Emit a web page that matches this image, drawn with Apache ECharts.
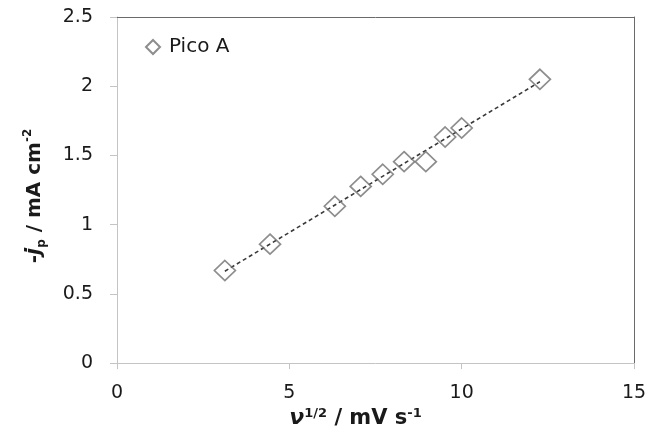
<!DOCTYPE html>
<html>
<head>
<meta charset="utf-8">
<script src="https://cdn.jsdelivr.net/npm/echarts@6/dist/echarts.min.js"></script>
<style>html,body{margin:0;padding:0;background:#fff;}#c{width:650px;height:434px;}</style>
</head>
<body>
<div id="c"></div>
<script>
// Data
var seriesName = 'Pico A';
var xValues = [3.13, 4.44, 6.32, 7.07, 7.71, 8.33, 8.96, 9.52, 10.0, 12.27];
var yValues = [0.669, 0.859, 1.133, 1.276, 1.364, 1.455, 1.455, 1.633, 1.698, 2.05];
var xTicks = [0, 5, 10, 15];
var yTicks = [0, 0.5, 1, 1.5, 2, 2.5];

// linear trend line (least squares) from the data
function fit(xs, ys) {
  var n = xs.length, sx = 0, sy = 0, sxx = 0, sxy = 0;
  for (var i = 0; i < n; i++) { sx += xs[i]; sy += ys[i]; sxx += xs[i]*xs[i]; sxy += xs[i]*ys[i]; }
  var b = (n*sxy - sx*sy) / (n*sxx - sx*sx);
  var a = (sy - b*sx) / n;
  return {a: a, b: b};
}
var f = fit(xValues, yValues);
var xmin = Math.min.apply(null, xValues), xmax = Math.max.apply(null, xValues);
var trend = [[xmin, f.a + f.b*xmin], [xmax, f.a + f.b*xmax]];
var points = xValues.map(function (x, i) { return [x, yValues[i]]; });

var font = 'DejaVu Sans';
var dark = '#1a1a1a';
var chart = echarts.init(document.getElementById('c'));
chart.setOption({
  animation: false,
  backgroundColor: '#fff',
  grid: {left: 117, right: 16, top: 17, bottom: 67, containLabel: false},
  legend: {
    left: 140, top: 32, itemWidth: 14, itemHeight: 14, itemGap: 6,
    data: [{name: seriesName, icon: 'diamond'}],
    textStyle: {fontFamily: font, fontSize: 20, color: dark, padding: [0, 0, 0, 4]}
  },
  xAxis: [{
    type: 'value', min: xTicks[0], max: xTicks[xTicks.length-1], interval: 5,
    splitLine: {show: false},
    axisLine: {show: true, onZero: false, lineStyle: {color: '#c4c4c4', width: 1}},
    axisTick: {show: true, length: 6, lineStyle: {color: '#c4c4c4'}},
    axisLabel: {margin: 20, fontFamily: font, fontSize: 19, color: dark},
    name: '{v|ν}{sup|1/2}{t| / mV s}{sup|-1}',
    nameLocation: 'middle', nameGap: 41,
    nameTextStyle: {
      padding: [0, 40, 0, 0],
      rich: {
        v: {fontFamily: font, fontSize: 22, fontWeight: 'bold', fontStyle: 'italic', color: dark, lineHeight: 22, verticalAlign: 'bottom'},
        t: {fontFamily: font, fontSize: 21, fontWeight: 'bold', color: dark, lineHeight: 22, verticalAlign: 'bottom'},
        sup: {fontFamily: font, fontSize: 13, fontWeight: 'bold', color: dark, lineHeight: 13, verticalAlign: 'top'}
      }
    }
  }, {
    type: 'value', position: 'top', min: 0, max: 15,
    axisLine: {show: true, onZero: false, lineStyle: {color: '#6a6a6a', width: 1}},
    axisTick: {show: false}, axisLabel: {show: false}, splitLine: {show: false}
  }],
  yAxis: [{
    type: 'value', min: yTicks[0], max: yTicks[yTicks.length-1], interval: 0.5,
    splitLine: {show: false},
    axisLine: {show: true, onZero: false, lineStyle: {color: '#c4c4c4', width: 1}},
    axisTick: {show: true, length: 7, lineStyle: {color: '#c4c4c4'}},
    axisLabel: {margin: 24, fontFamily: font, fontSize: 19, color: dark, padding: [4, 0, 0, 0]},
    name: '{t|-}{j|j}{sub|p}{t| / mA cm}{sup|-2}',
    nameLocation: 'middle', nameGap: 69, nameRotate: 90,
    nameTextStyle: {
      padding: [0, 12, 0, 0],
      rich: {
        t: {fontFamily: font, fontSize: 20, fontWeight: 'bold', color: dark, lineHeight: 26, verticalAlign: 'middle'},
        j: {fontFamily: font, fontSize: 21, fontWeight: 'bold', fontStyle: 'italic', color: dark, lineHeight: 26, verticalAlign: 'middle'},
        sub: {fontFamily: font, fontSize: 12, fontWeight: 'bold', color: dark, lineHeight: 15, verticalAlign: 'bottom'},
        sup: {fontFamily: font, fontSize: 12, fontWeight: 'bold', color: dark, lineHeight: 15, verticalAlign: 'top'}
      }
    }
  }, {
    type: 'value', position: 'right', min: 0, max: 2.5,
    axisLine: {show: true, onZero: false, lineStyle: {color: '#6a6a6a', width: 1}},
    axisTick: {show: false}, axisLabel: {show: false}, splitLine: {show: false}
  }],
  series: [{
    name: 'trend', type: 'line', data: trend, symbol: 'none', silent: true,
    lineStyle: {color: '#3a3a3a', width: 1.6, type: [4, 3]}, z: 1
  }, {
    name: seriesName, type: 'scatter', data: points,
    symbol: 'diamond', symbolSize: [21, 20],
    itemStyle: {color: 'rgba(255,255,255,0)', borderColor: '#707070', borderWidth: 1.7},
    z: 2
  }]
});
</script>
</body>
</html>
